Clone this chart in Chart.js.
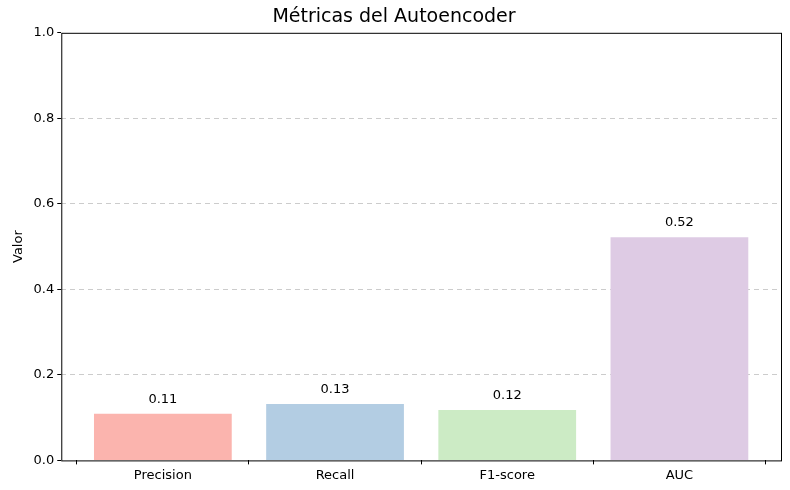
<!DOCTYPE html>
<html>
<head>
<meta charset="utf-8">
<script src="https://cdn.jsdelivr.net/npm/chart.js@4"></script>
<style>
  html, body { margin: 0; padding: 0; background: #fff; }
  #wrap { position: relative; width: 790px; height: 490px; }
</style>
</head>
<body>
<div id="wrap"><canvas id="chart"></canvas></div>
<script>
const categories = ["Precision", "Recall", "F1-score", "AUC"];
const values = [0.109, 0.132, 0.118, 0.522];
const barColors = ["#fbb4ae", "#b3cde3", "#ccebc5", "#decbe4"];
const yTicks = [0, 0.2, 0.4, 0.6, 0.8, 1.0];

const font = "DejaVu Sans";

// frame around the plot area, like matplotlib spines
const framePlugin = {
  id: "frame",
  afterDraw(chart) {
    const { ctx, chartArea: a } = chart;
    ctx.save();
    ctx.strokeStyle = "#000";
    ctx.lineWidth = 1;
    ctx.strokeRect(a.left + 0.5, a.top + 0.5, a.right - a.left, a.bottom - a.top);
    ctx.restore();
  }
};

// value labels above bars
const labelPlugin = {
  id: "valueLabels",
  afterDatasetsDraw(chart) {
    const { ctx } = chart;
    const meta = chart.getDatasetMeta(0);
    ctx.save();
    ctx.font = "13px '" + font + "'";
    ctx.fillStyle = "#000";
    ctx.textAlign = "center";
    ctx.textBaseline = "bottom";
    meta.data.forEach((bar, i) => {
      ctx.fillText(values[i].toFixed(2), bar.x, bar.y - 8);
    });
    ctx.restore();
  }
};

new Chart(document.getElementById("chart"), {
  type: "bar",
  data: {
    datasets: [{
      data: values.map((v, i) => ({ x: i, y: v })),
      backgroundColor: barColors,
      barPercentage: 0.8,
      categoryPercentage: 1.0,
      borderWidth: 0
    }]
  },
  options: {
    responsive: true,
    maintainAspectRatio: false,
    animation: false,
    layout: { padding: { left: 7, right: 9, top: 0, bottom: 4 } },
    scales: {
      x: {
        type: "linear",
        min: -0.59,
        max: 3.59,
        offset: false,
        grid: { display: true, drawOnChartArea: false, color: "#000", tickLength: 4 },
        border: { display: false },
        afterBuildTicks(axis) { axis.ticks = categories.map((c, i) => ({ value: i })); },
        ticks: {
          callback: (v) => categories[v] ?? "",
          color: "#000",
          font: { family: font, size: 13 },
          maxRotation: 0
        }
      },
      y: {
        min: 0,
        max: 1,
        afterBuildTicks(axis) { axis.ticks = yTicks.map(v => ({ value: v })); },
        ticks: {
          callback: (v) => v.toFixed(1),
          color: "#000",
          font: { family: font, size: 13 }
        },
        grid: {
          color: (c) => (c.tick && c.tick.value > 0 && c.tick.value < 1) ? "rgba(0,0,0,0.2)" : "rgba(0,0,0,0)",
          tickColor: "#000",
          tickLength: 4,
          drawTicks: true
        },
        border: { display: false, dash: [5, 4] },
        title: {
          display: true,
          text: "Valor",
          color: "#000",
          font: { family: font, size: 13 }
        }
      }
    },
    plugins: {
      legend: { display: false },
      tooltip: { enabled: false },
      title: {
        display: true,
        text: "Métricas del Autoencoder",
        color: "#000",
        font: { family: font, size: 19, weight: "normal" },
        padding: { top: 6, bottom: 4 }
      }
    }
  },
  plugins: [framePlugin, labelPlugin]
});
</script>
</body>
</html>
